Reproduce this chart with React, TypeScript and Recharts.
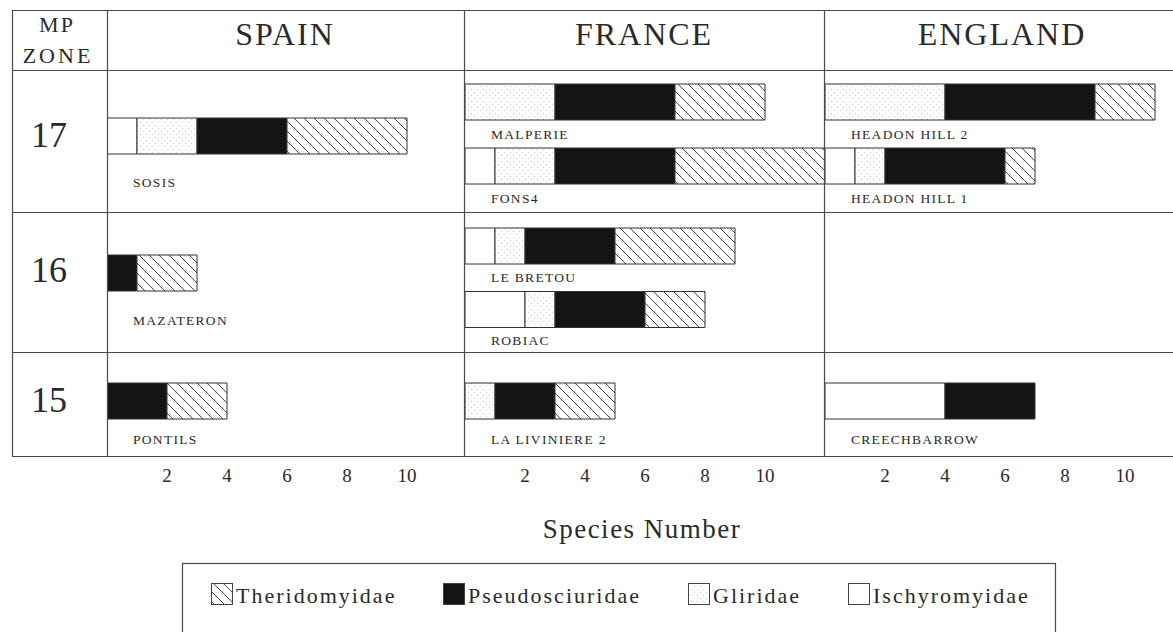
import { BarChart, Bar, XAxis, YAxis } from 'recharts';

// species counts per locality, stacked left to right in family order
const sites = [
  'SOSIS', 'MAZATERON', 'PONTILS',
  'MALPERIE', 'FONS4', 'LE BRETOU', 'ROBIAC', 'LA LIVINIERE 2',
  'HEADON HILL 2', 'HEADON HILL 1', 'CREECHBARROW',
];
const siteCountry = [
  'SPAIN', 'SPAIN', 'SPAIN',
  'FRANCE', 'FRANCE', 'FRANCE', 'FRANCE', 'FRANCE',
  'ENGLAND', 'ENGLAND', 'ENGLAND',
];
const siteZone = ['17', '16', '15', '17', '17', '16', '16', '15', '17', '17', '15'];

const ischyromyidae = [1, 0, 0, 0, 1, 1, 2, 0, 0, 1, 4];
const gliridae = [2, 0, 0, 3, 2, 1, 1, 1, 4, 1, 0];
const pseudosciuridae = [3, 1, 2, 4, 4, 3, 3, 2, 5, 4, 3];
const theridomyidae = [4, 2, 2, 3, 5, 4, 2, 2, 2, 1, 0];

const countries = ['SPAIN', 'FRANCE', 'ENGLAND'];
const zones = ['17', '16', '15'];
const xTicks = [2, 4, 6, 8, 10];
const legendOrder = ['Theridomyidae', 'Pseudosciuridae', 'Gliridae', 'Ischyromyidae'];

const records = sites.map((site, i) => ({
  site,
  country: siteCountry[i],
  zone: siteZone[i],
  Ischyromyidae: ischyromyidae[i],
  Gliridae: gliridae[i],
  Pseudosciuridae: pseudosciuridae[i],
  Theridomyidae: theridomyidae[i],
}));

const FONT = '"Liberation Serif", "DejaVu Serif", serif';
const INK = '#2a2a2a';
const LINE = '#4a4a4a';

const fills: Record<string, string> = {
  Ischyromyidae: '#ffffff',
  Gliridae: 'url(#stipple)',
  Pseudosciuridae: '#141414',
  Theridomyidae: 'url(#hatch)',
};
const stackOrder = ['Ischyromyidae', 'Gliridae', 'Pseudosciuridae', 'Theridomyidae'];

// panel geometry: 30px per species
const UNIT = 30;
const panelLeft = [107, 465, 825];
const panelMax = [11.9, 12, 11.6];
const rowTop = [70, 212, 352];
const rowHeight = [142, 140, 104];
const AXIS_H = 52;
const Y_W = 1; // thin category axis, site names are drawn inside the plot

// vertical placement inside a row, depending on how many localities it holds
const cellLayout = [
  { single: { top: 0, bottom: 11, labelDy: 51 }, pair: { top: 0, bottom: 14, labelDy: 36.5 } },
  { single: { top: 0, bottom: 19, labelDy: 52 }, pair: { top: 2, bottom: 11, labelDy: 36 } },
  { single: { top: 0, bottom: 0, labelDy: 42.5 }, pair: { top: 0, bottom: 0, labelDy: 36 } },
];

function SiteTick(props: any) {
  const { y, payload, dy } = props;
  return (
    <text
      x={Y_W + 26}
      y={y + dy}
      fontSize={13.5}
      letterSpacing={1.3}
      fill={INK}
      fontFamily={FONT}
    >
      {payload.value}
    </text>
  );
}

function Cell({ c, r }: { c: number; r: number }) {
  const data = records.filter((d) => d.country === countries[c] && d.zone === zones[r]);
  if (data.length === 0) return null;
  const lay = data.length > 1 ? cellLayout[r].pair : cellLayout[r].single;
  const withAxis = r === 2;
  const height = withAxis ? rowHeight[r] - 6 + AXIS_H : rowHeight[r];
  const width = panelMax[c] * UNIT + Y_W;
  return (
    <div style={{ position: 'absolute', left: panelLeft[c] - Y_W, top: rowTop[r] }}>
      <BarChart
        width={width}
        height={height}
        data={data}
        layout="vertical"
        margin={{ top: lay.top, right: 0, bottom: withAxis ? 0 : lay.bottom, left: 0 }}
      >
        <XAxis
          type="number"
          domain={[0, panelMax[c]]}
          allowDataOverflow
          ticks={xTicks}
          hide={!withAxis}
          height={AXIS_H}
          axisLine={false}
          tickLine={false}
          tickSize={0}
          tickMargin={19}
          tick={{ fontSize: 19, fill: INK, fontFamily: FONT }}
        />
        <YAxis
          type="category"
          dataKey="site"
          width={Y_W}
          axisLine={false}
          tickLine={false}
          interval={0}
          tick={<SiteTick dy={lay.labelDy} />}
        />
        {stackOrder.map((key) => (
          <Bar
            key={key}
            dataKey={key}
            stackId="families"
            barSize={36}
            fill={fills[key]}
            stroke="#333"
            strokeWidth={1}
            isAnimationActive={false}
          />
        ))}
      </BarChart>
    </div>
  );
}

const legendX = [211, 443, 688, 848];

export default function App() {
  const hLines = [10, 70, 212, 352, 456];
  const vLines = [12, 107, 464, 824];
  const headerX = [285, 644, 1002];
  const zoneY = [147, 282, 412];

  return (
    <div
      style={{
        position: 'absolute',
        left: 0,
        top: 0,
        width: 1173,
        height: 632,
        overflow: 'hidden',
        background: '#fff',
      }}
    >
      <svg width={0} height={0} style={{ position: 'absolute' }}>
        <defs>
          <pattern id="hatch" patternUnits="userSpaceOnUse" width={10} height={10}>
            <rect width={10} height={10} fill="#fff" />
            <path d="M-1,9 l2,2 M0,0 l10,10 M9,-1 l2,2" stroke="#333" strokeWidth={0.9} />
          </pattern>
          <pattern id="stipple" patternUnits="userSpaceOnUse" width={6} height={6}>
            <rect width={6} height={6} fill="#fff" />
            <circle cx={1.5} cy={1.5} r={0.6} fill="#bbb" />
            <circle cx={4.5} cy={4.5} r={0.6} fill="#c8c8c8" />
          </pattern>
        </defs>
      </svg>

      {countries.map((_, c) =>
        zones.map((__, r) => <Cell key={`${c}-${r}`} c={c} r={r} />)
      )}

      <svg
        width={1173}
        height={632}
        style={{ position: 'absolute', left: 0, top: 0, pointerEvents: 'none' }}
      >
        {hLines.map((y) => (
          <line key={`h${y}`} x1={12} x2={1173} y1={y + 0.5} y2={y + 0.5} stroke={LINE} strokeWidth={1.2} />
        ))}
        {vLines.map((x) => (
          <line key={`v${x}`} x1={x + 0.5} x2={x + 0.5} y1={10} y2={457} stroke={LINE} strokeWidth={1.2} />
        ))}

        <g fontFamily={FONT} fill={INK}>
          <text x={57} y={32} fontSize={22} letterSpacing={2} textAnchor="middle">MP</text>
          <text x={58} y={63} fontSize={22} letterSpacing={3} textAnchor="middle">ZONE</text>
          {countries.map((name, c) => (
            <text key={name} x={headerX[c]} y={45} fontSize={32} letterSpacing={2} textAnchor="middle">
              {name}
            </text>
          ))}
          {zones.map((z, r) => (
            <text key={z} x={49} y={zoneY[r]} fontSize={36} textAnchor="middle">
              {z}
            </text>
          ))}
          <text x={642} y={538} fontSize={27} letterSpacing={1.5} textAnchor="middle">
            Species Number
          </text>
        </g>

        <rect x={182.5} y={563.5} width={873} height={120} fill="none" stroke={LINE} strokeWidth={1.2} />
        {legendOrder.map((name, i) => (
          <g key={name}>
            <rect
              x={legendX[i] + 0.5}
              y={583.5}
              width={21}
              height={21}
              fill={fills[name]}
              stroke="#444"
              strokeWidth={1}
            />
            <text
              x={legendX[i] + 25}
              y={603}
              fontSize={22}
              letterSpacing={2}
              fontFamily={FONT}
              fill={INK}
            >
              {name}
            </text>
          </g>
        ))}
      </svg>
    </div>
  );
}
